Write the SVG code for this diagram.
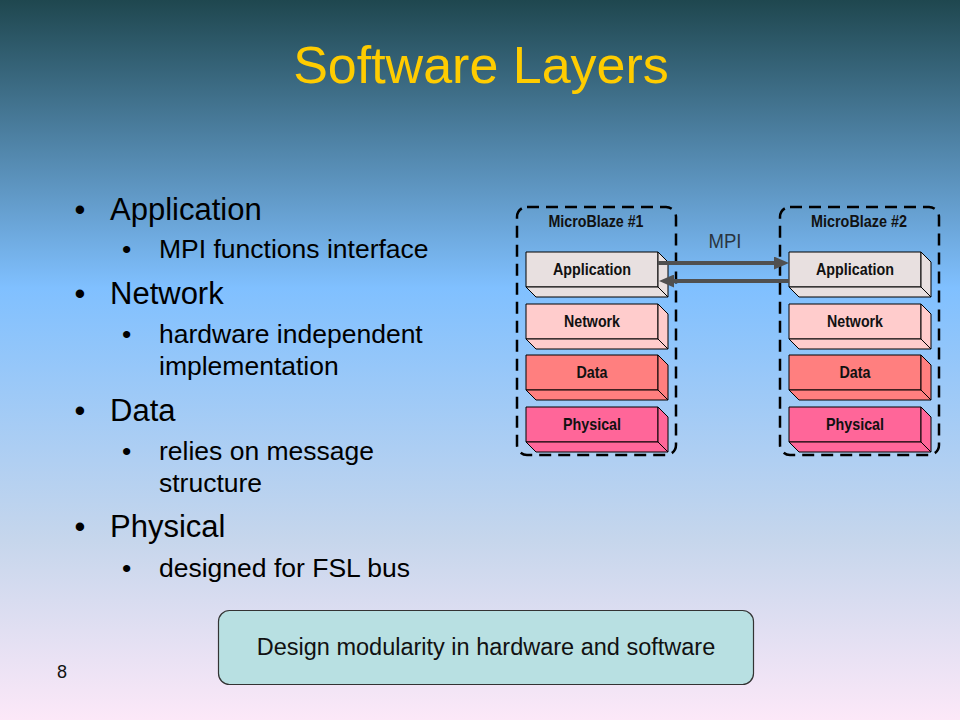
<svg xmlns="http://www.w3.org/2000/svg" width="960" height="720" viewBox="0 0 960 720">
  <defs>
    <linearGradient id="bg" x1="0" y1="0" x2="0" y2="1">
      <stop offset="0" stop-color="#1F474F"/>
      <stop offset="0.4" stop-color="#80C0FF"/>
      <stop offset="0.75" stop-color="#C6D6EC"/>
      <stop offset="1" stop-color="#FCE8F8"/>
    </linearGradient>
    <marker id="arr" markerUnits="userSpaceOnUse" markerWidth="15" markerHeight="13" refX="0" refY="6.5" orient="auto">
      <path d="M0,0 L15,6.5 L0,13 z" fill="#505050"/>
    </marker>
    <style>
      .title { font-family: "Liberation Sans", Arial, sans-serif; font-size: 52px; fill: #FFCC00; }
      .main { font-family: "Liberation Sans", Arial, sans-serif; font-size: 31px; fill: #000; }
      .sub { font-family: "Liberation Sans", Arial, sans-serif; font-size: 26.5px; fill: #000; }
      .lbl { font-family: "Liberation Sans", Arial, sans-serif; font-size: 16.5px; font-weight: bold; fill: #111; text-anchor: middle; }
      .dash { fill: none; stroke: #000; stroke-width: 2.5; stroke-dasharray: 12 7; }
      .face { stroke: #000; stroke-width: 1; stroke-linejoin: round; }
      .app { fill: #E8E0E0; }
      .net { fill: #FFCCCC; }
      .dat { fill: #FF7F7F; }
      .phy { fill: #FF6699; }
      .conn { fill: none; stroke: #505050; stroke-width: 4; }
      .note { fill: #B8E0E2; stroke: #333; stroke-width: 1.2; }
      .notetext { font-family: "Liberation Sans", Arial, sans-serif; font-size: 23.5px; fill: #111; text-anchor: middle; }
      .mpi { font-family: "Liberation Sans", Arial, sans-serif; font-size: 20px; fill: #2A3440; text-anchor: middle; }
      .pg { font-family: "Liberation Sans", Arial, sans-serif; font-size: 18px; fill: #111; }
    </style>
  </defs>

  <rect x="0" y="0" width="960" height="720" fill="url(#bg)"/>

  <text class="title" x="481" y="83" text-anchor="middle">Software Layers</text>

  <g id="bullets">
    <text class="main" x="74.5" y="220">•</text>
    <text class="main" x="110" y="220">Application</text>
    <text class="sub" x="122" y="258">•</text>
    <text class="sub" x="159" y="258">MPI functions interface</text>
    <text class="main" x="74.5" y="304">•</text>
    <text class="main" x="110" y="304">Network</text>
    <text class="sub" x="122" y="343">•</text>
    <text class="sub" x="159" y="343">hardware independent</text>
    <text class="sub" x="159" y="375">implementation</text>
    <text class="main" x="74.5" y="421">•</text>
    <text class="main" x="110" y="421">Data</text>
    <text class="sub" x="122" y="460">•</text>
    <text class="sub" x="159" y="460">relies on message</text>
    <text class="sub" x="159" y="492">structure</text>
    <text class="main" x="74.5" y="537">•</text>
    <text class="main" x="110" y="537">Physical</text>
    <text class="sub" x="122" y="577">•</text>
    <text class="sub" x="159" y="577">designed for FSL bus</text>
  </g>

  <g id="mb1">
    <rect class="dash" x="517" y="207" width="159" height="248" rx="10"/>
    <text class="lbl" x="596" y="227" textLength="95" lengthAdjust="spacingAndGlyphs">MicroBlaze #1</text>
  </g>
  <g id="mb2">
    <rect class="dash" x="780" y="207" width="159" height="248" rx="10"/>
    <text class="lbl" x="859" y="227" textLength="96" lengthAdjust="spacingAndGlyphs">MicroBlaze #2</text>
  </g>

  <g id="mb1-app">
    <rect class="face app" x="526" y="252" width="132" height="35"/>
    <polygon class="face app" points="658,252 668,262 668,297 658,287"/>
    <polygon class="face app" points="526,287 658,287 668,297 536,297"/>
    <text class="lbl" x="592" y="275" textLength="78" lengthAdjust="spacingAndGlyphs">Application</text>
  </g>
  <g id="mb1-net">
    <rect class="face net" x="526" y="304" width="132" height="35"/>
    <polygon class="face net" points="658,304 668,314 668,349 658,339"/>
    <polygon class="face net" points="526,339 658,339 668,349 536,349"/>
    <text class="lbl" x="592" y="327" textLength="56" lengthAdjust="spacingAndGlyphs">Network</text>
  </g>
  <g id="mb1-dat">
    <rect class="face dat" x="526" y="355" width="132" height="35"/>
    <polygon class="face dat" points="658,355 668,365 668,400 658,390"/>
    <polygon class="face dat" points="526,390 658,390 668,400 536,400"/>
    <text class="lbl" x="592" y="378" textLength="31" lengthAdjust="spacingAndGlyphs">Data</text>
  </g>
  <g id="mb1-phy">
    <rect class="face phy" x="526" y="407" width="132" height="35"/>
    <polygon class="face phy" points="658,407 668,417 668,452 658,442"/>
    <polygon class="face phy" points="526,442 658,442 668,452 536,452"/>
    <text class="lbl" x="592" y="430" textLength="58" lengthAdjust="spacingAndGlyphs">Physical</text>
  </g>

  <g id="mb2-app">
    <rect class="face app" x="789" y="252" width="132" height="35"/>
    <polygon class="face app" points="921,252 931,262 931,297 921,287"/>
    <polygon class="face app" points="789,287 921,287 931,297 799,297"/>
    <text class="lbl" x="855" y="275" textLength="78" lengthAdjust="spacingAndGlyphs">Application</text>
  </g>
  <g id="mb2-net">
    <rect class="face net" x="789" y="304" width="132" height="35"/>
    <polygon class="face net" points="921,304 931,314 931,349 921,339"/>
    <polygon class="face net" points="789,339 921,339 931,349 799,349"/>
    <text class="lbl" x="855" y="327" textLength="56" lengthAdjust="spacingAndGlyphs">Network</text>
  </g>
  <g id="mb2-dat">
    <rect class="face dat" x="789" y="355" width="132" height="35"/>
    <polygon class="face dat" points="921,355 931,365 931,400 921,390"/>
    <polygon class="face dat" points="789,390 921,390 931,400 799,400"/>
    <text class="lbl" x="855" y="378" textLength="31" lengthAdjust="spacingAndGlyphs">Data</text>
  </g>
  <g id="mb2-phy">
    <rect class="face phy" x="789" y="407" width="132" height="35"/>
    <polygon class="face phy" points="921,407 931,417 931,452 921,442"/>
    <polygon class="face phy" points="789,442 921,442 931,452 799,452"/>
    <text class="lbl" x="855" y="430" textLength="58" lengthAdjust="spacingAndGlyphs">Physical</text>
  </g>

  <g id="connectors">
    <path class="conn" d="M658,263 H774" marker-end="url(#arr)"/>
    <path class="conn" d="M789,281 H674" marker-end="url(#arr)"/>
    <text class="mpi" x="725" y="248" textLength="33" lengthAdjust="spacingAndGlyphs">MPI</text>
  </g>

  <g id="note">
    <rect class="note" x="218.5" y="610.5" width="535" height="74" rx="11"/>
    <text class="notetext" x="486" y="655">Design modularity in hardware and software</text>
  </g>

  <text class="pg" x="57" y="678">8</text>
</svg>
